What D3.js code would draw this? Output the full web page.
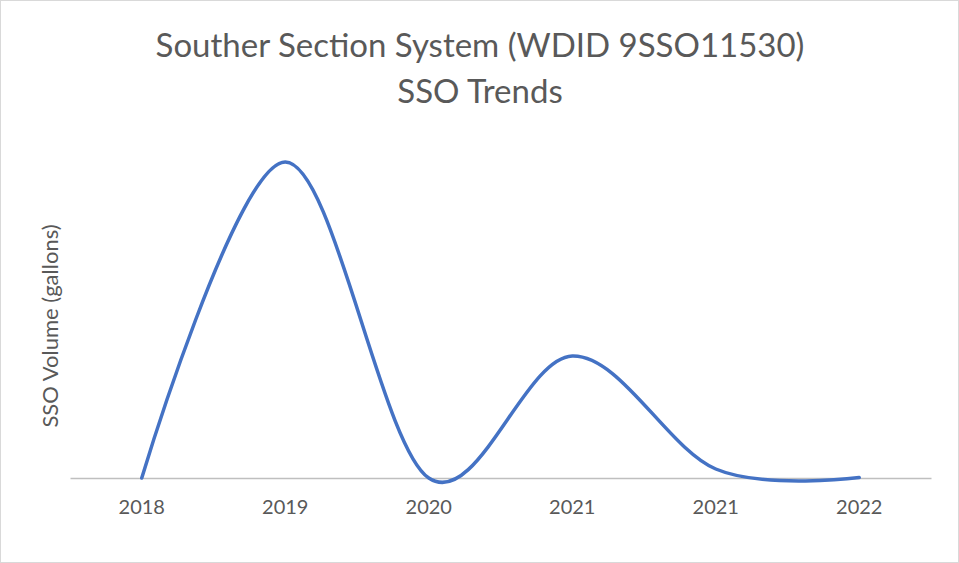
<!DOCTYPE html>
<html>
<head>
<meta charset="utf-8">
<script src="https://cdn.jsdelivr.net/npm/d3@7"></script>
<style>
  html, body { margin: 0; padding: 0; background: #fff; }
  svg { display: block; }
  text { font-family: Lato, "Open Sans", sans-serif; fill: #595959; }
</style>
</head>
<body>
<svg id="chart" width="959" height="563"></svg>
<script>
// SSO volume by year (gallons)
const categories = ["2018", "2019", "2020", "2021", "2021", "2022"];
const volumes = [0, 31600, 0, 12200, 900, 40];
const titleLines = ["Souther Section System (WDID 9SSO11530)", "SSO Trends"];
const yAxisTitle = "SSO Volume (gallons)";

const W = 959, H = 563;
const margin = { left: 70, right: 28, top: 128, bottom: 85 };
const svg = d3.select("#chart");

// outer chart frame
svg.append("rect")
  .attr("x", 0.5).attr("y", 0.5)
  .attr("width", W - 1).attr("height", H - 1)
  .attr("fill", "#fff").attr("stroke", "#d9d9d9");

const x = d3.scaleBand()
  .domain(d3.range(categories.length))
  .range([margin.left, W - margin.right]);

const y = d3.scaleLinear()
  .domain([0, 35000])
  .range([H - margin.bottom, H - margin.bottom - 350]);

// category axis
const xAxis = d3.axisBottom(x)
  .tickFormat(i => categories[i])
  .tickSize(0)
  .tickPadding(22);

const gx = svg.append("g")
  .attr("transform", `translate(0,${y(0)})`)
  .call(xAxis);
gx.select(".domain").attr("stroke", "#bfbfbf").attr("stroke-width", 1.5);
gx.selectAll("text")
  .style("font-size", "20px")
  .style("fill", "#595959")
  .style("font-family", "Lato, 'Open Sans', sans-serif");

// smoothed series line
const line = d3.line()
  .x((d, i) => x(i) + x.bandwidth() / 2)
  .y(d => y(d))
  .curve(d3.curveCardinal.tension(0));

svg.append("path")
  .datum(volumes)
  .attr("d", line)
  .attr("fill", "none")
  .attr("stroke", "#4472c4")
  .attr("stroke-width", 3.5)
  .attr("stroke-linecap", "round");

// chart title
svg.append("text")
  .attr("text-anchor", "middle")
  .attr("x", 480)
  .style("font-size", "33px")
  .selectAll("tspan")
  .data(titleLines)
  .join("tspan")
  .attr("x", 480)
  .attr("y", (d, i) => 57 + i * 46)
  .text(d => d);

// vertical axis title
svg.append("text")
  .attr("text-anchor", "middle")
  .attr("transform", "translate(58,326) rotate(-90)")
  .style("font-size", "22px")
  .text(yAxisTitle);
</script>
</body>
</html>
